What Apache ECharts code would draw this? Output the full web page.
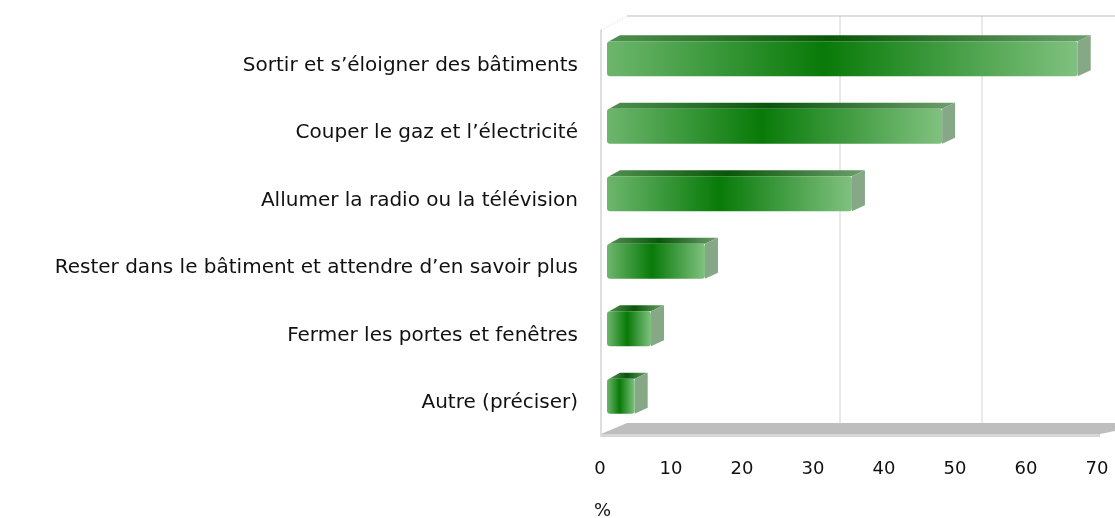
<!DOCTYPE html>
<html>
<head>
<meta charset="utf-8">
<script src="https://cdn.jsdelivr.net/npm/echarts@6/dist/echarts.min.js"></script>
<style>
  html, body { margin: 0; padding: 0; background: #fff; }
  #chart { width: 1115px; height: 518px; }
</style>
</head>
<body>
<div id="chart"></div>
<script>
// données (%)
var categories = [
  'Sortir et s\u2019éloigner des bâtiments',
  'Couper le gaz et l\u2019électricité',
  'Allumer la radio ou la télévision',
  'Rester dans le bâtiment et attendre d\u2019en savoir plus',
  'Fermer les portes et fenêtres',
  'Autre (préciser)'
];
var values = [66.3, 47.2, 34.5, 13.8, 6.2, 3.9];
var xTicks = [0, 10, 20, 30, 40, 50, 60, 70];
var gridValues = [30, 50];

var FONT = 'DejaVu Sans';
// décalages de la pseudo-3D
var BAR_SHIFT = 7, BAR_H = 35, DEPTH_X = 13, DEPTH_Y = 6;
var WALL_X = 27, WALL_Y = 14;
var GRID_TOP = 32, GRID_BOTTOM = 81;

var frontGrad = new echarts.graphic.LinearGradient(0, 0, 1, 0, [
  { offset: 0, color: '#6db66d' },
  { offset: 0.46, color: '#087a08' },
  { offset: 1, color: '#80c180' }
]);
var topGrad = new echarts.graphic.LinearGradient(0, 0, 1, 0, [
  { offset: 0, color: '#4f8f4f' },
  { offset: 0.46, color: '#0a560a' },
  { offset: 1, color: '#6c9f6c' }
]);

function renderBar(params, api) {
  var i = api.value(0);
  var start = api.coord([0, i]);
  var end = api.coord([api.value(1), i]);
  var x0 = start[0] + BAR_SHIFT, x1 = end[0] + BAR_SHIFT;
  var cy = start[1] - BAR_SHIFT;
  var y0 = cy - BAR_H / 2, y1 = cy + BAR_H / 2;
  return {
    type: 'group',
    children: [
      {
        type: 'polygon',
        shape: { points: [[x0 + 2, y0], [x0 + DEPTH_X, y0 - DEPTH_Y], [x1 + DEPTH_X, y0 - DEPTH_Y], [x1, y0]] },
        style: { fill: topGrad }
      },
      {
        type: 'polygon',
        shape: { points: [[x1, y0], [x1 + DEPTH_X, y0 - DEPTH_Y], [x1 + DEPTH_X, y1 - DEPTH_Y], [x1, y1]] },
        style: { fill: '#86a886' }
      },
      {
        type: 'rect',
        shape: { x: x0, y: y0, width: x1 - x0, height: y1 - y0, r: 3 },
        style: { fill: frontGrad }
      }
    ]
  };
}

var chart = echarts.init(document.getElementById('chart'));
chart.setOption({
  animation: false,
  textStyle: { fontFamily: FONT },
  title: {
    text: '%', left: 589, top: 497,
    textStyle: { fontFamily: FONT, fontSize: 18, fontWeight: 'normal', color: '#111' }
  },
  grid: { left: 600, right: 18, top: GRID_TOP, bottom: GRID_BOTTOM },
  xAxis: {
    type: 'value', min: 0, max: 70, interval: 10,
    axisLine: { show: false }, axisTick: { show: false }, splitLine: { show: false },
    axisLabel: { margin: 23, fontSize: 18, color: '#111', fontFamily: FONT }
  },
  yAxis: {
    type: 'category', data: categories, inverse: true,
    axisLine: { show: false }, axisTick: { show: false },
    axisLabel: { margin: 22, fontSize: 20, color: '#111', fontFamily: FONT }
  },
  series: [{
    type: 'custom',
    renderItem: renderBar,
    encode: { x: 1, y: 0 },
    data: values.map(function (v, i) { return [i, v]; }),
    z: 5
  }]
});

// murs, sol et quadrillage
var px = function (v) { return chart.convertToPixel({ xAxisIndex: 0 }, v); };
var plotTop = GRID_TOP, plotBottom = 518 - GRID_BOTTOM;
var plotLeft = px(0), plotRight = px(xTicks[xTicks.length - 1]);
var deco = [];
gridValues.forEach(function (g) {
  deco.push({
    type: 'line', z: 1,
    shape: { x1: px(g) + WALL_X, y1: plotTop - WALL_Y - 2, x2: px(g) + WALL_X, y2: plotBottom - WALL_Y },
    style: { stroke: '#d4d4d4', lineWidth: 1 }
  });
});
deco.push(
  { type: 'line', z: 1, shape: { x1: plotLeft + WALL_X, y1: plotTop - WALL_Y - 2, x2: plotRight + WALL_X + 30, y2: plotTop - WALL_Y - 2 },
    style: { stroke: '#bdbdbd', lineWidth: 1 } },
  { type: 'line', z: 1, shape: { x1: plotLeft + 1, y1: plotTop - 2, x2: plotLeft + 1, y2: plotBottom },
    style: { stroke: '#bdbdbd', lineWidth: 1 } },
  { type: 'line', z: 1, shape: { x1: plotLeft + 1, y1: plotTop - 2, x2: plotLeft + WALL_X, y2: plotTop - WALL_Y - 2 },
    style: { stroke: '#cfcfcf', lineWidth: 1, lineDash: [1, 2] } },
  { type: 'polygon', z: 1,
    shape: { points: [[plotLeft + 1, plotBottom - 3], [plotLeft + WALL_X, plotBottom - WALL_Y], [plotRight + WALL_X + 30, plotBottom - WALL_Y], [plotRight + 3, plotBottom - 3]] },
    style: { fill: '#bebebe' } },
  { type: 'rect', z: 1, shape: { x: plotLeft + 1, y: plotBottom - 3, width: plotRight - plotLeft + 2, height: 3 },
    style: { fill: '#d6d6d6' } }
);
chart.setOption({ graphic: deco });
</script>
</body>
</html>
